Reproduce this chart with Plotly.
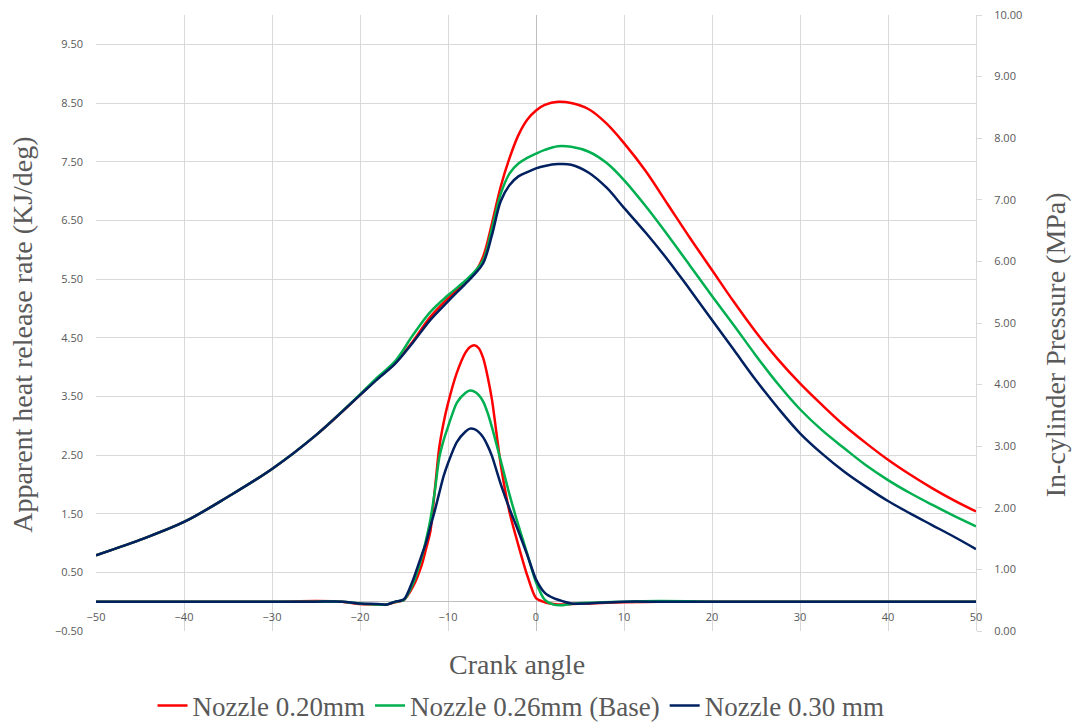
import plotly.graph_objects as go

# Crank angle grid for in-cylinder pressure (deg)
theta_p = [-50, -45, -40, -35, -30, -25, -20, -18, -16, -14, -12, -10, -8, -7, -6, -5, -4, -3, -2, -1,
           0, 1, 2.5, 4, 6, 8, 10, 12.5, 15, 17.5, 20, 22.5, 25, 27.5, 30, 32.5, 35, 37.5, 40, 42.5, 45, 47.5, 50]

# In-cylinder pressure (MPa)
p_020 = [1.23, 1.48, 1.77, 2.18, 2.63, 3.18, 3.83, 4.10, 4.35, 4.70, 5.10, 5.40, 5.67, 5.81, 6.08, 6.62, 7.22, 7.68, 8.05, 8.30,
         8.45, 8.54, 8.59, 8.57, 8.47, 8.24, 7.92, 7.46, 6.92, 6.38, 5.86, 5.34, 4.85, 4.41, 4.02, 3.67, 3.34, 3.05, 2.78, 2.54, 2.32, 2.12, 1.94]
p_026 = [1.23, 1.48, 1.77, 2.18, 2.63, 3.18, 3.84, 4.12, 4.38, 4.80, 5.18, 5.45, 5.69, 5.83, 6.02, 6.54, 7.10, 7.43, 7.59, 7.68,
         7.75, 7.81, 7.87, 7.86, 7.78, 7.60, 7.32, 6.89, 6.42, 5.93, 5.44, 4.96, 4.47, 4.01, 3.60, 3.26, 2.97, 2.69, 2.45, 2.24, 2.05, 1.87, 1.70]
p_030 = [1.23, 1.48, 1.77, 2.18, 2.63, 3.18, 3.83, 4.09, 4.34, 4.68, 5.05, 5.35, 5.64, 5.79, 5.97, 6.43, 6.98, 7.24, 7.38, 7.45,
         7.51, 7.55, 7.58, 7.57, 7.44, 7.20, 6.87, 6.46, 6.02, 5.54, 5.05, 4.56, 4.07, 3.62, 3.21, 2.88, 2.59, 2.34, 2.11, 1.91, 1.72, 1.53, 1.33]

# Crank angle grid for apparent heat release rate (deg)
theta_h = [-50, -40, -30, -25, -22, -20, -18, -17, -16, -15, -14, -13, -12.5, -12, -11.5, -11, -10.5, -10, -9, -8,
           -7.5, -7, -6.5, -6, -5.5, -5, -4, -3, -2, -1, 0, 1, 2, 3, 4, 6, 10, 14, 20, 30, 40, 50]

# Apparent heat release rate (KJ/deg)
hrr_020 = [0, 0, 0, 0.01, 0, -0.04, -0.05, -0.05, -0.01, 0.03, 0.25, 0.62, 0.90, 1.20, 1.90, 2.62, 3.05, 3.38, 3.90, 4.25,
           4.34, 4.37, 4.32, 4.15, 3.84, 3.44, 2.33, 1.52, 0.96, 0.45, 0.06, -0.01, -0.04, -0.05, -0.04, -0.03, -0.01, 0, 0, 0, 0, 0]
hrr_026 = [0, 0, 0, 0, 0, -0.03, -0.05, -0.05, 0, 0.03, 0.30, 0.75, 1.05, 1.40, 1.88, 2.45, 2.75, 2.98, 3.39, 3.56,
           3.60, 3.58, 3.52, 3.41, 3.22, 2.97, 2.40, 1.82, 1.30, 0.82, 0.33, 0.03, -0.05, -0.06, -0.04, -0.02, 0, 0.01, 0, 0, 0, 0]
hrr_030 = [0, 0, 0, 0, 0, -0.03, -0.04, -0.05, 0, 0.04, 0.36, 0.79, 1.00, 1.28, 1.55, 1.85, 2.14, 2.36, 2.72, 2.90,
           2.95, 2.94, 2.89, 2.80, 2.66, 2.48, 2.00, 1.58, 1.20, 0.80, 0.38, 0.15, 0.06, 0.01, -0.03, -0.03, 0, 0, 0, 0, 0, 0]

names = ["Nozzle 0.20mm", "Nozzle 0.26mm (Base)", "Nozzle 0.30 mm"]
colors = ["#ff0000", "#00b050", "#002060"]

fig = go.Figure()
for name, col, p, h in zip(names, colors, [p_020, p_026, p_030], [hrr_020, hrr_026, hrr_030]):
    fig.add_trace(go.Scatter(x=theta_h, y=h, mode="lines", name=name, legendgroup=name, showlegend=False,
                             line=dict(color=col, width=2.5, shape="spline", smoothing=0.7), yaxis="y"))
    fig.add_trace(go.Scatter(x=theta_p, y=p, mode="lines", name=name, legendgroup=name, showlegend=True,
                             line=dict(color=col, width=2.5, shape="spline", smoothing=1.0), yaxis="y2"))

tick_font = dict(family="Open Sans", size=11, color="#595959")
serif = dict(family="Liberation Serif", size=28, color="#595959")
legend_font = dict(family="Liberation Serif", size=27, color="#595959")

fig.update_layout(
    width=1075, height=724,
    margin=dict(l=96, r=99, t=15, b=93, autoexpand=False),
    paper_bgcolor="white", plot_bgcolor="white",
    xaxis=dict(range=[-50, 50], dtick=10, tick0=-50, showgrid=True, gridcolor="#d9d9d9", gridwidth=1,
               zeroline=True, zerolinecolor="#bfbfbf", zerolinewidth=1,
               anchor="free", position=0.5 / 10.5, showline=False, ticks="", tickfont=tick_font,
               ticklabelstandoff=7),
    yaxis=dict(range=[-0.5, 10], tick0=-0.5, dtick=1, tickformat=".2f", showgrid=True, gridcolor="#d9d9d9",
               zeroline=True, zerolinecolor="#bfbfbf", zerolinewidth=1, showline=False, ticks="",
               tickfont=tick_font, ticklabelstandoff=12),
    yaxis2=dict(range=[0, 10], dtick=1, tickformat=".2f", overlaying="y", side="right", showgrid=False,
                zeroline=False, showline=True, linecolor="#d9d9d9", ticks="outside", ticklen=5,
                tickcolor="#d9d9d9", tickfont=tick_font, ticklabelstandoff=10),
    legend=dict(orientation="h", x=0.483, xanchor="center", y=-0.1218, yanchor="middle",
                font=legend_font, bgcolor="rgba(0,0,0,0)", itemwidth=30, tracegroupgap=0),
    showlegend=True,
    annotations=[
        dict(text="Apparent heat release rate (KJ/deg)", xref="paper", yref="paper", x=-0.0835, y=0.48,
             textangle=-90, showarrow=False, font=serif, xanchor="center", yanchor="middle"),
        dict(text="In-cylinder Pressure (MPa)", xref="paper", yref="paper", x=1.0898, y=0.464,
             textangle=-90, showarrow=False, font=serif, xanchor="center", yanchor="middle"),
        dict(text="Crank angle", xref="paper", yref="paper", x=0.478, y=-0.055,
             showarrow=False, font=serif, xanchor="center", yanchor="middle"),
    ],
)

fig.write_html("out.html")
